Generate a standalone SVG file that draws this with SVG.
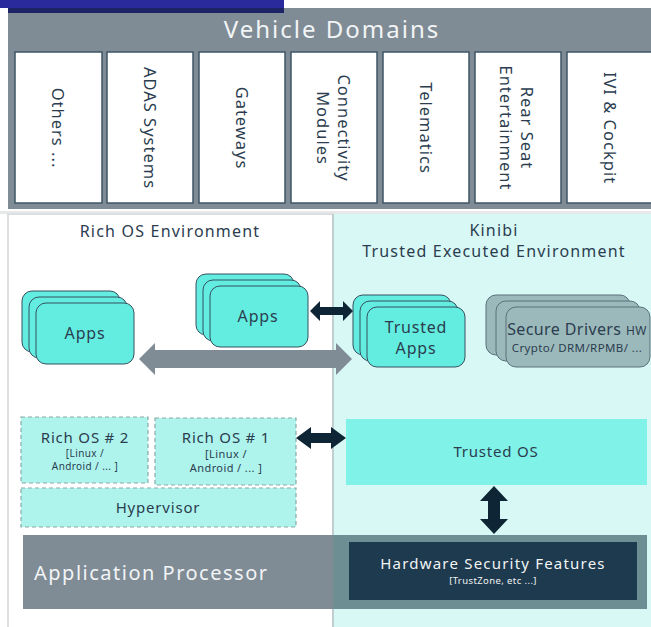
<svg xmlns="http://www.w3.org/2000/svg" width="651" height="627" viewBox="0 0 651 627">
<style>
text{font-family:"Noto Sans","Open Sans","Liberation Sans",sans-serif;fill:#2b3d4f;letter-spacing:0.8px}
.dom{fill:#ffffff;stroke:#3e5666;stroke-width:1.5}
.vt{font-size:16.5px;letter-spacing:1px}
.app{fill:#63ede0;stroke:#35505e;stroke-width:1}
.drv{fill:#9bb9ba;stroke:#5b707a;stroke-width:1}
.dash{fill:#aef4ed;stroke:#8aa9a8;stroke-width:1.2;stroke-dasharray:4 3}
.lbl{font-size:16px;text-anchor:middle}
.sm{font-size:10px;text-anchor:middle;letter-spacing:0.4px}
.dark{fill:#0d2535}
</style>
<rect width="651" height="627" fill="#ffffff"/>
<g id="vehicle-domains">
<rect x="8" y="8" width="650" height="201" fill="#7f8c95"/>
<text x="332" y="38" font-size="24" text-anchor="middle" style="fill:#f2f4f5;letter-spacing:2px">Vehicle Domains</text>
</g>
<g id="title-bar">
<rect x="0" y="0" width="284" height="8" fill="#2b2a9c"/>
<rect x="8" y="8" width="276" height="5" fill="#1d2466"/>
</g>
<g id="dom-others"><rect class="dom" x="15" y="52" width="87" height="151"/><text class="vt" transform="translate(52,128) rotate(90)" text-anchor="middle">Others ...</text></g>
<g id="dom-adas"><rect class="dom" x="107" y="52" width="86" height="151"/><text class="vt" transform="translate(144,128) rotate(90)" text-anchor="middle">ADAS Systems</text></g>
<g id="dom-gateways"><rect class="dom" x="199" y="52" width="86" height="151"/><text class="vt" transform="translate(236,128) rotate(90)" text-anchor="middle">Gateways</text></g>
<g id="dom-connectivity"><rect class="dom" x="291" y="52" width="86" height="151"/><text class="vt" transform="translate(338,128) rotate(90)" text-anchor="middle">Connectivity</text><text class="vt" transform="translate(317,128) rotate(90)" text-anchor="middle">Modules</text></g>
<g id="dom-telematics"><rect class="dom" x="383" y="52" width="86" height="151"/><text class="vt" transform="translate(420,128) rotate(90)" text-anchor="middle">Telematics</text></g>
<g id="dom-rear-seat"><rect class="dom" x="475" y="52" width="86" height="151"/><text class="vt" transform="translate(521,128) rotate(90)" text-anchor="middle">Rear Seat</text><text class="vt" transform="translate(500,128) rotate(90)" text-anchor="middle">Entertainment</text></g>
<g id="dom-ivi"><rect class="dom" x="567" y="52" width="90" height="151"/><text class="vt" transform="translate(604,128) rotate(90)" text-anchor="middle">IVI &amp; Cockpit</text></g>
<rect x="0" y="211" width="651" height="3" fill="#e6e8e9"/>
<g id="rich-os-env">
<rect x="8" y="214" width="325" height="420" fill="#ffffff" stroke="#dcdfe0" stroke-width="2"/>
<text x="170" y="237" font-size="16" text-anchor="middle" style="letter-spacing:1.2px">Rich OS Environment</text>
</g>
<g id="tee-env">
<rect x="333" y="214" width="320" height="420" fill="#d8f8f6"/>
<line x1="333" y1="214" x2="333" y2="627" stroke="#b9c4c6" stroke-width="1.5"/>
<text x="494" y="236" font-size="16" text-anchor="middle" style="letter-spacing:1.2px">Kinibi</text>
<text x="494" y="257" font-size="16" text-anchor="middle" style="letter-spacing:1.2px">Trusted Executed Environment</text>
</g>
<g id="apps-1">
<rect class="app" x="22" y="291" width="98" height="61" rx="10"/>
<rect class="app" x="29" y="297" width="98" height="61" rx="10"/>
<rect class="app" x="36" y="303" width="98" height="61" rx="10"/>
<text class="lbl" x="85" y="339">Apps</text>
</g>
<g id="apps-2">
<rect class="app" x="196" y="274" width="98" height="61" rx="10"/>
<rect class="app" x="203" y="280" width="98" height="61" rx="10"/>
<rect class="app" x="210" y="286" width="98" height="61" rx="10"/>
<text class="lbl" x="258" y="322">Apps</text>
</g>
<g id="trusted-apps">
<rect class="app" x="353" y="295" width="98" height="60" rx="10"/>
<rect class="app" x="360" y="301" width="98" height="60" rx="10"/>
<rect class="app" x="367" y="307" width="98" height="60" rx="10"/>
<text class="lbl" x="416" y="333">Trusted</text>
<text class="lbl" x="416" y="354">Apps</text>
</g>
<g id="secure-drivers">
<rect class="drv" x="486" y="295" width="144" height="60" rx="10"/>
<rect class="drv" x="496" y="301" width="144" height="60" rx="10"/>
<rect class="drv" x="506" y="307" width="144" height="60" rx="10"/>
<text class="lbl" x="577" y="335" style="letter-spacing:0.4px">Secure Drivers <tspan font-size="12">HW</tspan></text>
<text x="577" y="352" font-size="11.5" text-anchor="middle" style="letter-spacing:0.4px">Crypto/ DRM/RPMB/ ...</text>
</g>
<g id="rich-os-2">
<rect class="dash" x="21" y="417" width="127" height="66"/>
<text x="85" y="443" font-size="15" text-anchor="middle">Rich OS # 2</text>
<text class="sm" x="85" y="457">[Linux /</text>
<text class="sm" x="85" y="470">Android / ... ]</text>
</g>
<g id="rich-os-1">
<rect class="dash" x="155" y="418" width="141" height="67"/>
<text x="226" y="443" font-size="15" text-anchor="middle">Rich OS # 1</text>
<text class="sm" x="226" y="458" style="font-size:11px">[Linux /</text>
<text class="sm" x="226" y="472" style="font-size:11px">Android / ... ]</text>
</g>
<g id="hypervisor">
<rect class="dash" x="21" y="488" width="275" height="39"/>
<text x="158" y="513" font-size="15" text-anchor="middle">Hypervisor</text>
</g>
<g id="trusted-os">
<rect x="346" y="419" width="301" height="66" fill="#80f2e8"/>
<text x="496" y="457" font-size="15" text-anchor="middle">Trusted OS</text>
</g>
<g id="application-processor">
<rect x="23" y="535" width="310" height="74" fill="#7f8c95"/>
<rect x="333" y="535" width="314" height="74" fill="#6d8e93"/>
<text x="34" y="580" font-size="20" style="fill:#f2f4f5;letter-spacing:1.5px">Application Processor</text>
</g>
<g id="hw-security">
<rect x="349" y="542" width="288" height="58" fill="#1e3a4e"/>
<text x="493" y="569" font-size="15" text-anchor="middle" style="fill:#f2f4f5;letter-spacing:1.2px">Hardware Security Features</text>
<text x="493" y="584" font-size="9.5" text-anchor="middle" style="fill:#f2f4f5;letter-spacing:0.4px">[TrustZone, etc ...]</text>
</g>
<g id="connectors">
<path class="dark" d="M310,311 L320,301 L320,307 L343,307 L343,301 L353,311 L343,321 L343,315 L320,315 L320,321 Z"/>
<path fill="#7f8c95" d="M139,359 L155,343 L155,350 L336,350 L336,343 L352,359 L336,375 L336,368 L155,368 L155,375 Z"/>
<path class="dark" d="M296,438 L311,427 L311,433 L331,433 L331,427 L346,438 L331,449 L331,443 L311,443 L311,449 Z"/>
<path class="dark" d="M494,486 L508,501 L500,501 L500,519 L508,519 L494,534 L480,519 L488,519 L488,501 L480,501 Z"/>
</g>
</svg>
